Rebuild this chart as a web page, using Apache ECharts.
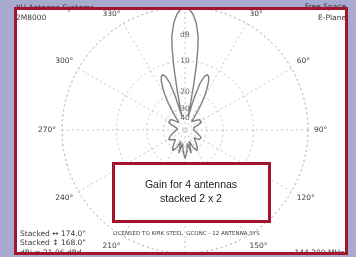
<!DOCTYPE html>
<html><head><meta charset="utf-8">
<script src="https://cdn.jsdelivr.net/npm/echarts@6/dist/echarts.min.js"></script>
<style>html,body{margin:0;padding:0;background:#a9aad0;}#c{width:356px;height:257px;}</style>
</head><body><div id="c"></div>
<script>
// Pattern data (degrees clockwise from top, gain in dB relative to peak)
var angles = [0,2,4,6,8,9,10,11,12,13,14,15,16,18,20,22,24,26,28,30,32,34,36,38,40,45,50,55,60,65,70,75,80,90,100,110,115,120,125,130,135,140,145,150,155,160,165,170,175,180,
  185,190,195,200,205,210,215,220,225,230,235,240,245,250,260,270,280,285,290,295,300,305,310,315,320,322,324,326,328,330,332,334,336,338,340,342,344,345,346,347,348,349,350,351,352,354,356,358,360];
var gains = [0,-0.3,-1.0,-2.3,-4.5,-7,-11,-18,-28,-38,-34,-28,-22,-15.5,-13.2,-12.4,-12.8,-14.2,-16.5,-19.5,-23.5,-29,-36,-42,-44,-40,-36,-33,-32,-33,-38,-45,-48,-45,-42,-36,-33,-32,-34,-40,-38,-34,-30,-28,-32,-40,-28,-38,-30,-25,
  -30,-38,-28,-40,-32,-28,-30,-34,-38,-40,-34,-32,-33,-36,-42,-45,-48,-45,-38,-33,-32,-33,-36,-40,-44,-42,-36,-29,-23.5,-19.5,-16.5,-14.2,-12.8,-12.4,-13.2,-15.5,-22,-28,-34,-38,-28,-18,-11,-7,-4.5,-2.3,-1.0,-0.3,0];
var ringDb = [0,-10,-20,-30];
var ringLabels = ['dB','10','20','30','40'];
var ringLabelDb = [-4.5,-10,-20,-30,-40];
var angleLabels = {30:'30°',60:'60°',90:'90°',120:'120°',150:'150°',210:'210°',240:'240°',270:'270°',300:'300°',330:'330°'};

// ARRL log-periodic radial scale: 0.89 per 2 dB
function arrl(db){ return Math.pow(0.89, -db/2); }

var patternData = angles.map(function(a,i){ return [arrl(gains[i]), a]; });
var labelData = ringLabelDb.map(function(d,i){ return {value:[arrl(d),0], name:ringLabels[i]}; });

var chart = echarts.init(document.getElementById('c'), null, {renderer:'canvas'});
var txt = {fill:'#3a3a3a', fontFamily:'DejaVu Sans, sans-serif', fontSize:7.5};
function T(x,y,s,align,size){ return {type:'text', x:x, y:y, z:105, style:Object.assign({}, txt, {text:s, textAlign:align||'left', fontSize:size||7.5})}; }
chart.setOption({
  backgroundColor:'#a9aad0',
  animation:false,
  polar:{center:[185,130], radius:123},
  angleAxis:{type:'value', min:0, max:360, interval:30, startAngle:90, clockwise:true,
    axisLine:{lineStyle:{color:'#bdbdbd', type:[2,3], width:1}},
    axisTick:{show:false},
    splitLine:{lineStyle:{color:'#c6c6c6', type:[2,3], width:1}},
    axisLabel:{margin:6, color:'#3a3a3a', fontSize:7.5, fontFamily:'DejaVu Sans, sans-serif',
      formatter:function(v){ return angleLabels[v] || ''; }}
  },
  radiusAxis:{type:'value', min:0, max:1,
    axisLine:{show:false}, axisLabel:{show:false},
    axisTick:{show:false, customValues:ringDb.map(arrl)},
    splitLine:{show:true, lineStyle:{color:'#c6c6c6', type:[2,3], width:1}}
  },
  graphic:[
    {type:'rect', z:-10, shape:{x:14,y:8,width:334,height:247}, style:{fill:'#ffffff'}},
    T(16,4,'YU Antenna Systems'),
    T(16,14,'2M8000'),
    T(346,3,'Free Space','right'),
    T(346,14,'E-Plane','right'),
    {type:'rect', z:110, shape:{x:15.5,y:8.5,width:331,height:245}, style:{fill:null, stroke:'#a3142d', lineWidth:3}},
    T(20,230,'Stacked \u2194 174.0"'),
    T(20,239,'Stacked \u2195 168.0"'),
    T(20,249,'dBi = 21.06 dBd'),
    T(113,231,'LICENSED TO KIRK STEEL  GCONC - 12 ANTENNA SYS','left',5.5),
    T(344,249,'144.200 MHz','right'),
    {type:'rect', z:115, shape:{x:113.5,y:163.5,width:156,height:58}, style:{fill:'#ffffff', stroke:'#a3142d', lineWidth:3}},
    {type:'text', z:116, x:191, y:180, style:{text:'Gain for 4 antennas', textAlign:'center', fill:'#222', fontFamily:'Liberation Sans, Arial, sans-serif', fontSize:10.5}},
    {type:'text', z:116, x:191, y:194, style:{text:'stacked 2 x 2', textAlign:'center', fill:'#222', fontFamily:'Liberation Sans, Arial, sans-serif', fontSize:10.5}}
  ],
  series:[
    {type:'line', coordinateSystem:'polar', data:patternData, symbol:'none', smooth:false,
      lineStyle:{color:'#808080', width:1.4}, z:5},
    {type:'scatter', coordinateSystem:'polar', data:labelData, symbolSize:0, z:6,
      label:{show:true, position:'inside', formatter:function(p){return p.name;}, color:'#444', fontSize:7.5, fontFamily:'DejaVu Sans, sans-serif'}}
  ]
});
</script></body></html>
